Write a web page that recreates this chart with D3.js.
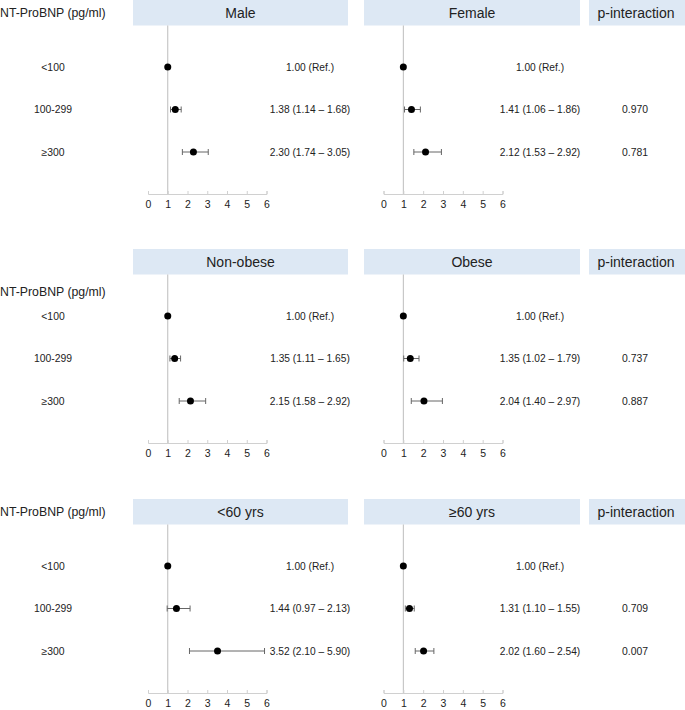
<!DOCTYPE html>
<html>
<head>
<meta charset="utf-8">
<script src="https://cdn.jsdelivr.net/npm/d3@7"></script>
<style>
  html, body { margin: 0; padding: 0; background: #fff; }
  svg text { font-family: "Liberation Sans", Arial, Helvetica, sans-serif; fill: #222; }
</style>
</head>
<body>
<svg id="chart" width="685" height="710"></svg>
<script>
// ---- Data ----
const categories = ["<100", "100-299", "≥300"];
const subgroups = ["Male", "Female", "Non-obese", "Obese", "<60 yrs", "≥60 yrs"];
const hr    = [[1.00, 1.38, 2.30], [1.00, 1.41, 2.12], [1.00, 1.35, 2.15], [1.00, 1.35, 2.04], [1.00, 1.44, 3.52], [1.00, 1.31, 2.02]];
const lower = [[null, 1.14, 1.74], [null, 1.06, 1.53], [null, 1.11, 1.58], [null, 1.02, 1.40], [null, 0.97, 2.10], [null, 1.10, 1.60]];
const upper = [[null, 1.68, 3.05], [null, 1.86, 2.92], [null, 1.65, 2.92], [null, 1.79, 2.97], [null, 2.13, 5.90], [null, 1.55, 2.54]];
const pInteraction = [["", "0.970", "0.781"], ["", "0.737", "0.887"], ["", "0.709", "0.007"]];
const xTicks = [0, 1, 2, 3, 4, 5, 6];
const rowTitle = "NT-ProBNP (pg/ml)";
const pTitle = "p-interaction";

// ---- Layout ----
const svg = d3.select("#chart");
const blockTops = [0, 249, 499];
const titleOffsets = [13, 43, 13];
const headerH = 25.5;
const axisOffset = 194;
const headerColor = "#dde8f4";

const panelGeom = [
  { boxX0: 133, boxX1: 348, axX0: 148, axX1: 266.5, estX: 310 },
  { boxX0: 364, boxX1: 580, axX0: 383.5, axX1: 502.5, estX: 540 }
];
const pBox = { x0: 589, x1: 685, textX: 636 };

const y = d3.scalePoint().domain(categories).range([67, 152]);

function fmt(v) { return v.toFixed(2); }

blockTops.forEach((top, b) => {
  const g = svg.append("g").attr("transform", `translate(0,${top})`);

  // row title
  g.append("text").attr("x", 0).attr("y", titleOffsets[b]).attr("dy", "0.35em")
    .style("font-size", "12.3px").text(rowTitle);

  // row labels
  categories.forEach(c => {
    g.append("text").attr("x", 53).attr("y", y(c)).attr("dy", "0.35em")
      .attr("text-anchor", "middle").style("font-size", "10.4px").text(c);
  });

  // p-interaction header
  g.append("rect").attr("x", pBox.x0).attr("y", 0).attr("width", pBox.x1 - pBox.x0)
    .attr("height", headerH).attr("fill", headerColor);
  g.append("text").attr("x", pBox.textX).attr("y", 13).attr("dy", "0.35em")
    .attr("text-anchor", "middle").style("font-size", "14px").text(pTitle);
  pInteraction[b].forEach((p, i) => {
    if (p) g.append("text").attr("x", pBox.textX - 1).attr("y", y(categories[i])).attr("dy", "0.35em")
      .attr("text-anchor", "middle").style("font-size", "10.4px").text(p);
  });

  panelGeom.forEach((pg, s) => {
    const k = b * 2 + s;
    const x = d3.scaleLinear().domain([0, 6]).range([pg.axX0, pg.axX1]);

    // header
    g.append("rect").attr("x", pg.boxX0).attr("y", 0).attr("width", pg.boxX1 - pg.boxX0)
      .attr("height", headerH).attr("fill", headerColor);
    g.append("text").attr("x", (pg.boxX0 + pg.boxX1) / 2).attr("y", 13).attr("dy", "0.35em")
      .attr("text-anchor", "middle").style("font-size", "14px").text(subgroups[k]);

    // reference line at 1
    g.append("line").attr("x1", x(1)).attr("x2", x(1))
      .attr("y1", headerH).attr("y2", axisOffset)
      .attr("stroke", "#bdbdbd").attr("stroke-width", 1);

    // axis
    const ax = g.append("g").attr("transform", `translate(0,${axisOffset})`)
      .call(d3.axisBottom(x).tickValues(xTicks).tickFormat(d3.format("d"))
        .tickSizeInner(-3).tickSizeOuter(-3).tickPadding(7));
    ax.select(".domain").attr("stroke", "#d0d0d0");
    ax.selectAll(".tick line").attr("stroke", "#d0d0d0");
    ax.selectAll(".tick text").style("font-size", "10.5px").style("font-family", "'Liberation Sans', Arial, sans-serif").attr("fill", "#333");

    // CI + points
    categories.forEach((c, i) => {
      const yy = y(c);
      if (lower[k][i] != null) {
        const lx = x(lower[k][i]), ux = x(upper[k][i]);
        g.append("line").attr("x1", lx).attr("x2", ux).attr("y1", yy).attr("y2", yy)
          .attr("stroke", "#666").attr("stroke-width", 1);
        [lx, ux].forEach(cx => g.append("line").attr("x1", cx).attr("x2", cx)
          .attr("y1", yy - 3).attr("y2", yy + 3).attr("stroke", "#666").attr("stroke-width", 1));
      }
      g.append("circle").attr("cx", x(hr[k][i])).attr("cy", yy).attr("r", 3.5).attr("fill", "#000");

      const label = lower[k][i] == null ? `${fmt(hr[k][i])} (Ref.)`
        : `${fmt(hr[k][i])} (${fmt(lower[k][i])} – ${fmt(upper[k][i])})`;
      g.append("text").attr("x", pg.estX).attr("y", yy).attr("dy", "0.35em")
        .attr("text-anchor", "middle").style("font-size", "10.2px").text(label);
    });
  });
});
</script>
</body>
</html>
